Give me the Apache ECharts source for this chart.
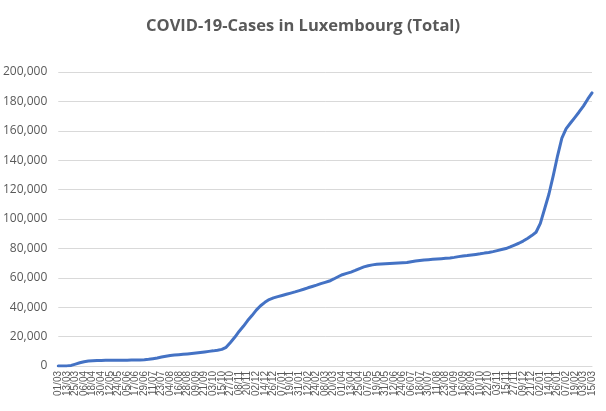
<!DOCTYPE html>
<html>
<head>
<meta charset="utf-8">
<script src="https://cdn.jsdelivr.net/npm/echarts@6/dist/echarts.min.js"></script>
<style>html,body{margin:0;padding:0;background:#fff}#c{width:606px;height:411px}</style>
</head>
<body>
<div id="c"></div>
<script>
// Chart title
const chartTitle = "COVID-19-Cases in Luxembourg (Total)";
// Start date of the series (1 March 2020); samples every 6 days
const startDate = [2020, 2, 1];
const stepDays = 6;
// Every 2nd sample (every 12 days) carries a tick label
const labelEvery = 2;
// Cumulative cases at every 6th day
const totalCases = [
  0, 20, 80, 400, 1300, 2200, 2900, 3350, 3550, 3700,
  3780, 3850, 3900, 3920, 3950, 3970, 3990, 4020, 4080, 4150,
  4250, 4550, 5000, 5500, 6100, 6650, 7150, 7450, 7700, 7950,
  8200, 8500, 8800, 9150, 9550, 9950, 10300, 10750, 11300, 12700,
  16000, 19500, 23500, 27000, 30900, 34300, 38000, 41000, 43300, 45200,
  46300, 47200, 48000, 48800, 49600, 50400, 51300, 52200, 53200, 54100,
  55000, 56000, 56900, 57800, 59200, 60700, 62100, 63000, 63900, 65000,
  66300, 67400, 68200, 68800, 69200, 69400, 69600, 69800, 69950, 70100,
  70250, 70400, 70900, 71400, 71800, 72150, 72350, 72600, 72800, 73000,
  73250, 73500, 73900, 74400, 74800, 75100, 75500, 75900, 76300, 76800,
  77200, 77800, 78500, 79200, 79900, 81000, 82300, 83500, 85000, 86800,
  88700, 91000, 97000, 107000, 117000, 129500, 143000, 155000, 161500, 165300,
  169000, 172800, 176800, 181500, 185800
];
// Y-axis ticks
const yMin = 0, yMax = 200000, yStep = 20000;

function pad(n){ return (n < 10 ? '0' : '') + n; }
const categories = totalCases.map((_, i) => {
  const d = new Date(Date.UTC(startDate[0], startDate[1], startDate[2] + i * stepDays));
  return pad(d.getUTCDate()) + '/' + pad(d.getUTCMonth() + 1);
});

const chart = echarts.init(document.getElementById('c'), null, {renderer: 'canvas'});
chart.setOption({
  animation: false,
  backgroundColor: '#ffffff',
  title: {
    text: chartTitle,
    left: 'center',
    top: 13,
    textStyle: {fontFamily: 'Open Sans', fontWeight: 'bold', fontSize: 16.5, color: '#595959'}
  },
  grid: {left: 58, right: 14, top: 72, bottom: 45, containLabel: false},
  xAxis: {
    type: 'category',
    data: categories,
    boundaryGap: false,
    axisLine: {lineStyle: {color: '#d9d9d9', width: 1}},
    axisTick: {show: false},
    axisLabel: {
      interval: 0,
      rotate: 90,
      margin: 5,
      hideOverlap: false,
      formatter: (v, i) => (i % labelEvery === 0 ? v : ''),
      fontFamily: 'Liberation Sans',
      fontSize: 10,
      color: '#595959'
    },
    splitLine: {show: false}
  },
  yAxis: {
    type: 'value',
    min: yMin,
    max: yMax,
    interval: yStep,
    axisLine: {show: false},
    axisTick: {show: false},
    axisLabel: {
      margin: 11,
      fontFamily: 'Open Sans',
      fontSize: 12,
      color: '#595959',
      formatter: v => v.toLocaleString('en-US')
    },
    splitLine: {lineStyle: {color: '#d9d9d9', width: 1}}
  },
  series: [{
    type: 'line',
    data: totalCases,
    showSymbol: false,
    symbol: 'none',
    smooth: false,
    lineStyle: {color: '#4472C4', width: 3, cap: 'round', join: 'round'}
  }]
});
</script>
</body>
</html>
